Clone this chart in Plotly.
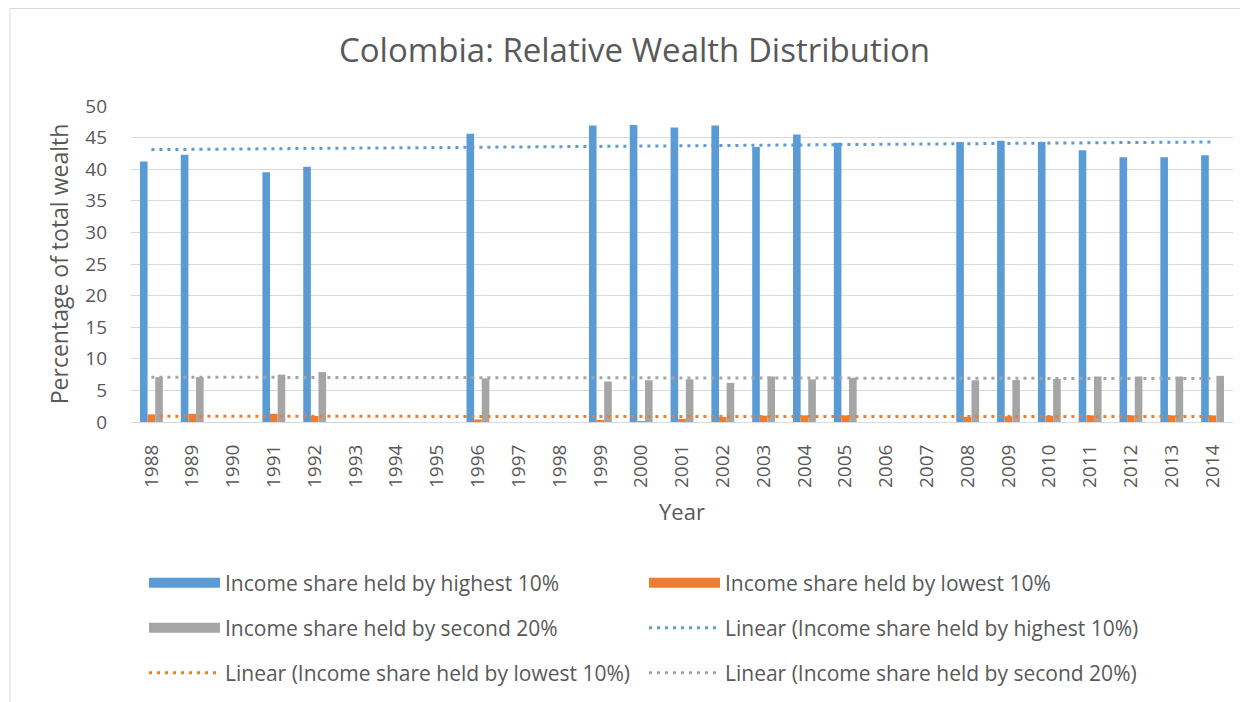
import numpy as np
import plotly.graph_objects as go

years = [str(y) for y in range(1988, 2015)]
highest10 = [41.2, 42.3, None, 39.5, 40.4, None, None, None, 45.6, None, None,
             46.9, 47.0, 46.6, 46.9, 43.5, 45.5, 44.2, None, None,
             44.3, 44.5, 44.3, 43.0, 41.9, 41.9, 42.2]
lowest10 = [1.2, 1.3, None, 1.3, 0.95, None, None, None, 0.4, None, None,
            0.3, 0.15, 0.5, 0.8, 1.0, 1.05, 1.05, None, None,
            0.8, 0.9, 1.0, 1.05, 1.05, 1.05, 1.05]
second20 = [7.1, 7.1, None, 7.5, 7.9, None, None, None, 6.9, None, None,
            6.4, 6.6, 6.75, 6.2, 7.2, 6.75, 7.0, None, None,
            6.6, 6.65, 6.8, 7.2, 7.2, 7.2, 7.3]

names = ["Income share held by highest 10%",
         "Income share held by lowest 10%",
         "Income share held by second 20%"]
colors = ["#5B9BD5", "#ED7D31", "#A5A5A5"]
series = [highest10, lowest10, second20]

FONT = "Open Sans"
TXT = "#595959"

# The page body has an 8px default margin; all reference pixel positions
# are converted to figure coordinates by subtracting OFF.
OFF = 8
W, H = 1240, 694
ml, mr, mt, mb = 123, 15, 98, 280
pw, ph = W - ml - mr, H - mt - mb


def px_x(p):
    return (p - OFF - ml) / pw


def px_y(p):
    return (H - mb - (p - OFF)) / ph


def trend(vals):
    idx = np.arange(1, len(vals) + 1)
    mask = np.array([v is not None for v in vals])
    y = np.array([v if v is not None else np.nan for v in vals], dtype=float)
    b, a = np.polyfit(idx[mask], y[mask], 1)
    return a + b * idx


fig = go.Figure()
bar_legend = ["legend", "legend", "legend2"]
for i, (n, c, s) in enumerate(zip(names, colors, series)):
    fig.add_trace(go.Bar(x=years, y=s, name=n, legendgroup=f"g{i}", showlegend=False,
                         marker=dict(color=c, line=dict(width=0))))
    # legend proxy drawn as a wide swatch
    fig.add_trace(go.Scatter(x=[None], y=[None], mode="lines", name=n,
                             legendgroup=f"g{i}", legend=bar_legend[i],
                             line=dict(color=c, width=14)))

trend_legends = ["legend2", "legend3", "legend3"]
for n, c, s, lg in zip(names, colors, series, trend_legends):
    fig.add_trace(go.Scatter(x=years, y=trend(s), mode="lines", name=f"Linear ({n})",
                             line=dict(color=c, width=3, dash="3px,5px"), legend=lg,
                             hoverinfo="skip"))

leg_common = dict(orientation="h", xanchor="left", yanchor="middle",
                  entrywidth=414, entrywidthmode="pixels", itemwidth=71,
                  font=dict(family=FONT, size=21, color=TXT),
                  bgcolor="rgba(0,0,0,0)", traceorder="normal")

fig.update_layout(
    width=W, height=H,
    margin=dict(l=ml, r=mr, t=mt, b=mb, autoexpand=False),
    paper_bgcolor="white", plot_bgcolor="white",
    barmode="group", bargap=0.44, bargroupgap=0,
    title=dict(text="Colombia: Relative Wealth Distribution",
               x=(634.5 - OFF) / W, xanchor="center", y=1 - (50 - OFF) / H, yanchor="middle",
               font=dict(family=FONT, size=33, color=TXT)),
    xaxis=dict(type="category", categoryarray=years, tickangle=-90,
               tickfont=dict(family=FONT, size=19, color=TXT), ticklabelstandoff=14,
               showgrid=False, showline=True, linecolor="#D9D9D9", linewidth=1,
               ticks="", title=dict(text="Year", font=dict(family=FONT, size=22, color=TXT),
                                    standoff=17)),
    yaxis=dict(range=[0, 50], dtick=5, showgrid=True, gridcolor="#D9D9D9", gridwidth=1,
               zeroline=False, ticks="", ticklabelstandoff=23,
               tickfont=dict(family=FONT, size=19, color=TXT),
               title=dict(text="Percentage of total wealth",
                          font=dict(family=FONT, size=23, color=TXT), standoff=10)),
    legend=dict(x=px_x(144), y=px_y(583), **leg_common),
    legend2=dict(x=px_x(144), y=px_y(628), **leg_common),
    legend3=dict(x=px_x(144), y=px_y(673), **leg_common),
    showlegend=True,
)

# chart frame
fig.add_shape(type="rect", xref="paper", yref="paper",
              x0=px_x(10), x1=px_x(1270), y0=px_y(730), y1=px_y(8.5),
              line=dict(color="#D9D9D9", width=1), layer="below")

fig.write_html("out.html")
